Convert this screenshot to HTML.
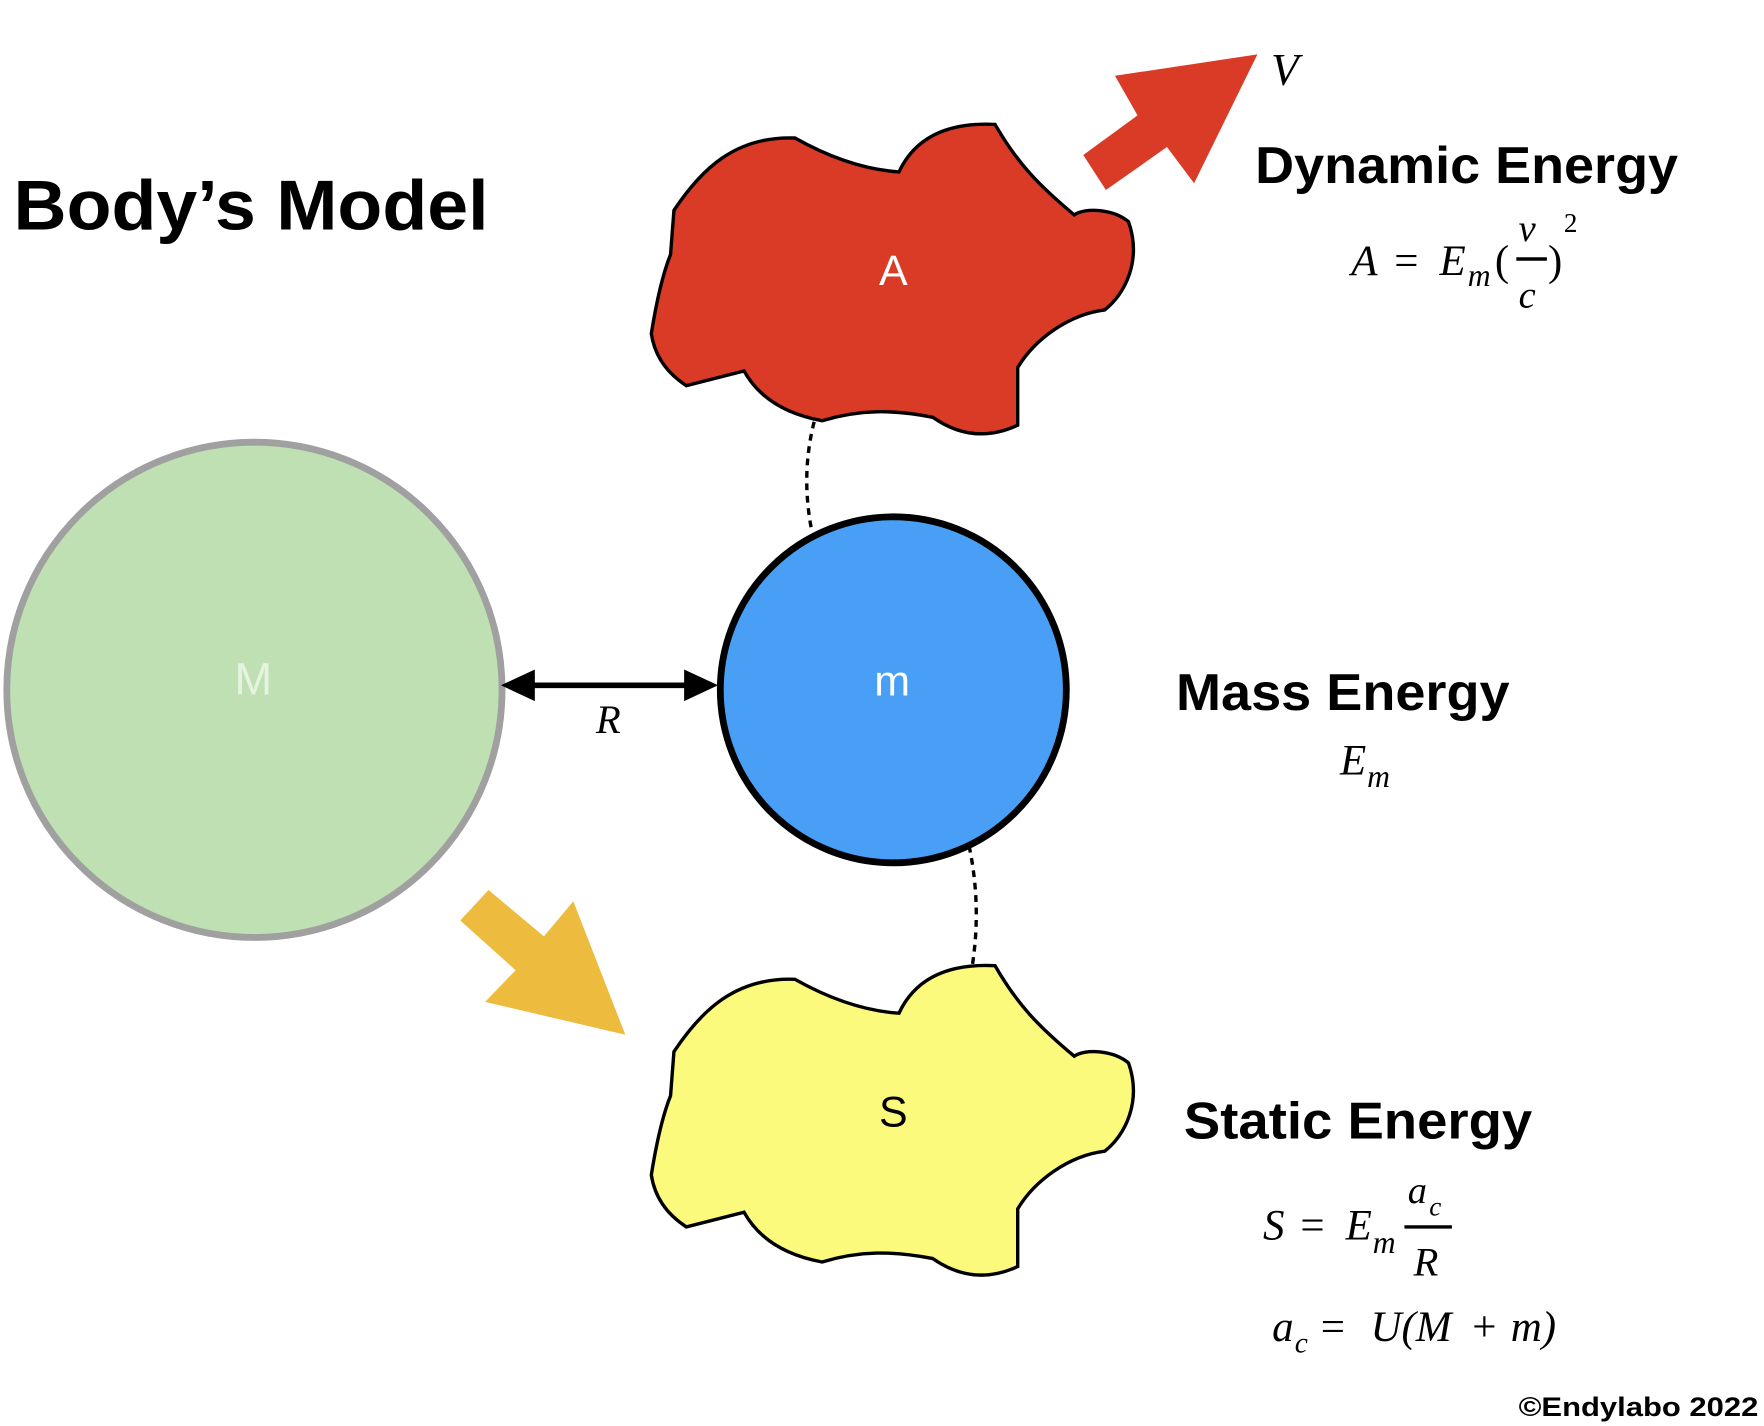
<!DOCTYPE html>
<html><head><meta charset="utf-8"><style>
html,body{margin:0;padding:0;background:#fff;}
svg{display:block;}
.b{font-family:"Liberation Sans",sans-serif;font-weight:bold;fill:#000;}
.m{font-family:"Liberation Serif",serif;font-style:italic;fill:#000;}
.n{font-family:"Liberation Serif",serif;fill:#000;}
</style></head><body>
<svg width="1764" height="1426" viewBox="0 0 1560 1261" xmlns="http://www.w3.org/2000/svg">
<text class="b" x="12" y="203" font-size="62" textLength="420" lengthAdjust="spacingAndGlyphs">Body’s Model</text>

<circle cx="225" cy="610" r="219" fill="#bfe0b2" stroke="#a0a0a0" stroke-width="6"/>
<text x="224" y="614" font-family="Liberation Sans,sans-serif" font-size="40" fill="#e6f3e0" text-anchor="middle">M</text>

<circle cx="790" cy="610" r="153" fill="#489ff5" stroke="#000" stroke-width="6"/>
<text x="789" y="615" font-family="Liberation Sans,sans-serif" font-size="38" fill="#fff" text-anchor="middle">m</text>

<line x1="465" y1="606" x2="613" y2="606" stroke="#000" stroke-width="5"/>
<polygon points="443,606 473,592 473,620" fill="#000"/>
<polygon points="635,606 605,592 605,620" fill="#000"/>
<text class="m" x="538" y="648" font-size="36" text-anchor="middle">R</text>

<defs>
<path id="blob" d="M596,186 C620,150 650,120 703,122 C735,140 765,150 795,152 C810,120 840,108 880,110 C900,145 920,165 950,190 C960,183 985,185 998,196 C1010,230 995,260 977,274 C945,278 915,300 900,325 L900,376 C870,390 845,383 825,369 C790,362 760,362 727,372 C700,367 673,355 658,328 L607,341 C590,330 579,315 576,295 C580,270 585,245 593,225 Z"/>
</defs>
<use href="#blob" fill="#da3b26" stroke="#000" stroke-width="3"/>
<text x="790" y="252" font-family="Liberation Sans,sans-serif" font-size="38" fill="#fff" text-anchor="middle">A</text>
<g transform="translate(0,744)"><use href="#blob" fill="#fcfa7d" stroke="#000" stroke-width="3"/></g>
<text x="790" y="996" font-family="Liberation Sans,sans-serif" font-size="38" fill="#000" text-anchor="middle">S</text>

<path d="M720,373 Q708,420 718,470" fill="none" stroke="#000" stroke-width="3" stroke-dasharray="6,5"/>
<path d="M857,748 Q868,800 860,853" fill="none" stroke="#000" stroke-width="3" stroke-dasharray="6,5"/>

<polygon points="958,137 1006,102 986,67 1112,48 1056,162 1032,130 978,168" fill="#da3b26"/>
<polygon points="407,814 432,787 481,828 507,797 553,915 429,886 456,858" fill="#edbb3e"/>

<text class="m" x="1124" y="75" font-size="40">V</text>
<text class="b" x="1110" y="162" font-size="46" textLength="374" lengthAdjust="spacingAndGlyphs">Dynamic Energy</text>
<text class="m" x="1195" y="243" font-size="38">A</text>
<text class="n" x="1233" y="243" font-size="38">=</text>
<text class="m" x="1273" y="243" font-size="38">E</text>
<text class="m" x="1298" y="253" font-size="28">m</text>
<text class="n" x="1322" y="243" font-size="38">(</text>
<text class="m" x="1343" y="213" font-size="34">v</text>
<line x1="1341" y1="229" x2="1368" y2="229" stroke="#000" stroke-width="3"/>
<text class="m" x="1343" y="272" font-size="34">c</text>
<text class="n" x="1369" y="243" font-size="38">)</text>
<text class="n" x="1383" y="205" font-size="24">2</text>

<text class="b" x="1040" y="628" font-size="46" textLength="295" lengthAdjust="spacingAndGlyphs">Mass Energy</text>
<text class="m" x="1185" y="685" font-size="38">E</text>
<text class="m" x="1209" y="696" font-size="28">m</text>

<text class="b" x="1047" y="1007" font-size="46" textLength="308" lengthAdjust="spacingAndGlyphs">Static Energy</text>
<text class="m" x="1117" y="1096" font-size="38">S</text>
<text class="n" x="1150" y="1096" font-size="38">=</text>
<text class="m" x="1190" y="1096" font-size="38">E</text>
<text class="m" x="1214" y="1108" font-size="28">m</text>
<text class="m" x="1245" y="1064" font-size="34">a</text>
<text class="m" x="1264" y="1075" font-size="24">c</text>
<line x1="1242" y1="1085" x2="1284" y2="1085" stroke="#000" stroke-width="3"/>
<text class="m" x="1250" y="1128" font-size="36">R</text>
<text class="m" x="1125" y="1186" font-size="38">a</text>
<text class="m" x="1145" y="1196" font-size="26">c</text>
<text class="n" x="1168" y="1186" font-size="38">=</text>
<text class="m" x="1212" y="1186" font-size="38">U(M</text>
<text class="n" x="1302" y="1186" font-size="38">+</text>
<text class="m" x="1336" y="1186" font-size="38">m)</text>

<text class="b" x="1343" y="1252" font-size="24" textLength="212" lengthAdjust="spacingAndGlyphs">©Endylabo 2022</text>
</svg>
</body></html>
